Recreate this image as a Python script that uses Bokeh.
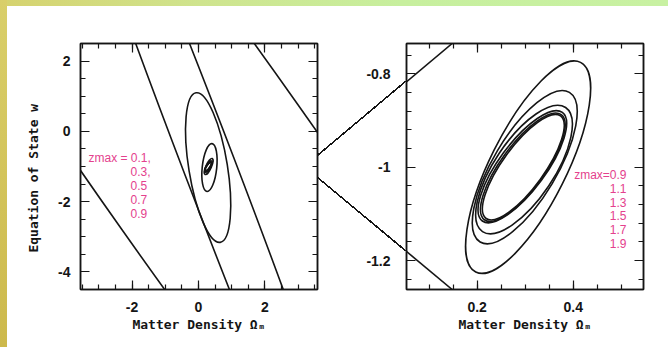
import numpy as np
from bokeh.plotting import figure
from bokeh.layouts import row
from bokeh.models import (Range1d, LinearAxis, SingleIntervalTicker,
                          CustomJSTickFormatter, Label, ColumnDataSource)
from bokeh.embed import file_html
from bokeh.resources import INLINE

# ---------------- data ----------------
zmax_left = [0.1, 0.3, 0.5, 0.7, 0.9]
cx_left = [0.33, 0.33, 0.29, 0.33, 0.306]
cy_left = [-1.0, -1.0, -1.03, -1.03, -1.0]
rx_left = [16.3, 5.9, 0.68, 0.23, 0.13]        # half extent in Omega_m
ry_left = [21.6, 14.5, 2.13, 0.68, 0.2275]     # half extent in w
rho_left = [-0.97, -0.99, -0.5, 0.3, 0.74]     # correlation

zmax_right = [0.9, 1.1, 1.3, 1.5, 1.7, 1.9]
cx_right = [0.306, 0.299, 0.2975, 0.294, 0.295, 0.296]
cy_right = [-1.0, -1.0, -1.005, -0.999, -1.0, -1.0]
rx_right = [0.13, 0.109, 0.1005, 0.092, 0.088, 0.085]
ry_right = [0.2275, 0.164, 0.1375, 0.120, 0.116, 0.113]
rho_right = [0.74, 0.72, 0.70, 0.77, 0.78, 0.79]

left_x = (-3.55, 3.58)
left_y = (-4.5, 2.5)
right_x = (0.053, 0.546)
right_y = (-1.262, -0.735)

# zoom connector: w on left panel edge -> Omega_m on right panel top/bottom edge
conn_w_left = [-0.72, -1.31]
conn_om_right = [0.148, 0.148]

# ---------------- layout geometry ----------------
FW, FH = 237, 246
BAND_L, BAND_T = 7, 6
L_MB_L, L_MB_R = 73, 45
R_MB_L, R_MB_R = 44, 25
MB_T, MB_B = 37, 58
LF_X0 = BAND_L + L_MB_L                    # left frame page x
SPLIT = BAND_L + L_MB_L + FW + L_MB_R      # page x of boundary between figures
RF_X0 = SPLIT + R_MB_L
F_Y0 = BAND_T + MB_T

INK = "#151515"
PINK = "#e4418d"


def kx(lim):
    return FW / (lim[1] - lim[0])


def ky(lim):
    return FH / (lim[1] - lim[0])


def ellipse_params(rx, ry, rho, xlim, ylim):
    """Turn (half extents, correlation) into bokeh ellipse width/height/angle."""
    W, H, A = [], [], []
    sxk, syk = kx(xlim), ky(ylim)
    for a, b, r in zip(rx, ry, rho):
        Sx, Sy = a * sxk, b * syk
        cov = np.array([[Sx * Sx, r * Sx * Sy], [r * Sx * Sy, Sy * Sy]])
        ev = np.linalg.eigvalsh(cov)
        lam1, lam2 = ev[1], max(ev[0], 1e-9)
        th = 0.5 * np.arctan2(2 * r * Sx * Sy, Sx * Sx - Sy * Sy)
        W.append(2 * np.sqrt(lam1) / sxk)
        H.append(2 * np.sqrt(lam2) / syk)
        A.append(th)
    return W, H, A


def make_fig(xlim, ylim, mbl, mbr, margin, xint, yint, xminor, yminor,
             ylabel=None, ystand=10):
    p = figure(frame_width=FW, frame_height=FH, x_range=Range1d(*xlim),
               y_range=Range1d(*ylim), toolbar_location=None,
               output_backend="svg", min_border_left=mbl, min_border_right=mbr,
               min_border_top=MB_T, min_border_bottom=MB_B,
               x_axis_location=None, y_axis_location=None)
    p.margin = margin
    p.grid.visible = False
    p.outline_line_color = INK
    p.outline_line_width = 1.5
    p.background_fill_color = "white"
    p.border_fill_color = None
    fmt = CustomJSTickFormatter(code="return String(Math.round(tick*10)/10)")
    blank = CustomJSTickFormatter(code="return ''")
    for place, is_x, f in (("below", True, fmt), ("above", True, blank),
                           ("left", False, fmt), ("right", False, blank)):
        ax = LinearAxis(ticker=SingleIntervalTicker(interval=xint if is_x else yint,
                                                    num_minor_ticks=xminor if is_x else yminor),
                        formatter=f)
        ax.major_tick_in = 9
        ax.major_tick_out = 0
        ax.minor_tick_in = 5
        ax.minor_tick_out = 0
        ax.major_tick_line_color = INK
        ax.minor_tick_line_color = INK
        ax.major_tick_line_width = 1.2
        ax.minor_tick_line_width = 1.2
        ax.axis_line_color = INK
        ax.axis_line_width = 1.5
        ax.major_label_text_font = "Liberation Sans"
        ax.major_label_text_font_style = "bold"
        ax.major_label_text_font_size = "14px"
        ax.major_label_text_color = INK
        ax.major_label_standoff = 12 if is_x else ystand
        ax.axis_label_text_font = "DejaVu Sans Mono"
        ax.axis_label_text_font_style = "bold"
        ax.axis_label_text_font_size = "13px"
        ax.axis_label_text_color = INK
        if place == "below":
            ax.axis_label = "Matter Density \u03a9\u2098"
            ax.axis_label_standoff = 2
        if place == "left" and ylabel:
            ax.axis_label = ylabel
            ax.axis_label_standoff = 14
        p.add_layout(ax, place)
    return p


# ---------------- left panel ----------------
p1 = make_fig(left_x, left_y, L_MB_L, L_MB_R, (BAND_T, 0, 0, BAND_L), 2, 2, 4, 4,
              ylabel="Equation of State w\u00a0\u00a0\u00a0", ystand=10)
w, h, a = ellipse_params(rx_left, ry_left, rho_left, left_x, left_y)
src1 = ColumnDataSource(dict(x=cx_left, y=cy_left, w=w, h=h, a=a))
p1.ellipse(x="x", y="y", width="w", height="h", angle="a", source=src1,
           fill_color=None, line_color=INK, line_width=1.6)
# the deeper surveys also appear, tiny, at the centre of the wide panel
w, h, a = ellipse_params(rx_right[1:], ry_right[1:], rho_right[1:], left_x, left_y)
src1b = ColumnDataSource(dict(x=cx_right[1:], y=cy_right[1:], w=w, h=h, a=a))
p1.ellipse(x="x", y="y", width="w", height="h", angle="a", source=src1b,
           fill_color=None, line_color=INK, line_width=1.4)


def lpx_to_x(px):
    return left_x[0] + (px - LF_X0) / kx(left_x)


def lpy_to_y(py):
    return left_y[1] - (py - F_Y0) / ky(left_y)


# legend text (left)
dyl = 13.9 / ky(left_y)
y0l = lpy_to_y(157)
for i, z in enumerate(zmax_left):
    if i == 0:
        txt = "zmax = %g," % z
    else:
        txt = "%g," % z if i == 1 else "%g" % z
    xx = lpx_to_x(88) if i == 0 else lpx_to_x(130)
    p1.add_layout(Label(x=xx, y=y0l - i * dyl, text=txt, text_align="left",
                        text_baseline="middle", text_font="Liberation Sans",
                        text_font_size="12px", text_color=PINK))

# ---------------- right panel ----------------
p2 = make_fig(right_x, right_y, R_MB_L, R_MB_R, (BAND_T, 0, 0, 0), 0.2, 0.2, 4, 5,
              ystand=16)
w, h, a = ellipse_params(rx_right, ry_right, rho_right, right_x, right_y)
src2 = ColumnDataSource(dict(x=cx_right, y=cy_right, w=w, h=h, a=a))
p2.ellipse(x="x", y="y", width="w", height="h", angle="a", source=src2,
           fill_color=None, line_color=INK, line_width=1.6)


def rpx_to_x(px):
    return right_x[0] + (px - RF_X0) / kx(right_x)


def rpy_to_y(py):
    return right_y[1] - (py - F_Y0) / ky(right_y)


dyr = 13.6 / ky(right_y)
x0r = rpx_to_x(626)
y0r = rpy_to_y(174.5)
for i, z in enumerate(zmax_right):
    txt = ("zmax=%g" % z) if i == 0 else ("%g" % z)
    p2.add_layout(Label(x=x0r, y=y0r - i * dyr, text=txt, text_align="right",
                        text_baseline="middle", text_font="Liberation Sans",
                        text_font_size="12px", text_color=PINK))

# ---------------- zoom connectors ----------------
css_lines = []
seg = dict(x0=[], y0=[], x1=[], y1=[])
for wl, om, yedge in zip(conn_w_left, conn_om_right, (right_y[1], right_y[0])):
    ax_ = LF_X0 + FW
    ay_ = F_Y0 + (left_y[1] - wl) * ky(left_y)
    bx_ = RF_X0 + (om - right_x[0]) * kx(right_x)
    by_ = F_Y0 + (right_y[1] - yedge) * ky(right_y)
    # part inside the right frame: a glyph (clipped by the frame)
    seg["x0"].append(rpx_to_x(ax_))
    seg["y0"].append(rpy_to_y(ay_))
    seg["x1"].append(om)
    seg["y1"].append(yedge)
    # part in the gap between the frames: css stroke behind transparent borders
    cy_ = ay_ + (RF_X0 - ax_) * (by_ - ay_) / (bx_ - ax_)
    left, top = ax_, min(ay_, cy_)
    wd, ht = RF_X0 - ax_, abs(cy_ - ay_)
    direction = "to bottom right" if cy_ < ay_ else "to top right"
    hw = 0.8
    css_lines.append(
        "linear-gradient(%s, transparent calc(50%% - %.1fpx), %s calc(50%% - %.1fpx), "
        "%s calc(50%% + %.1fpx), transparent calc(50%% + %.1fpx)) %.1fpx %.1fpx / %.1fpx %.1fpx no-repeat"
        % (direction, hw, INK, hw, INK, hw, hw, left, top, wd, ht))

p2.segment(x0="x0", y0="y0", x1="x1", y1="y1", source=ColumnDataSource(seg),
           line_color=INK, line_width=1.6)

bg = ", ".join(css_lines + [
    "linear-gradient(to bottom, #d9cf6a, #cdb94c) left top / %dpx 100%% no-repeat" % BAND_L,
    "linear-gradient(to right, #d6d26e, #cfe48e 30%%, #c7ef9e 60%%, #c8f1a2) left top / 100%% %dpx no-repeat" % BAND_T,
    "#ffffff"])
layout = row(p1, p2, styles={"background": bg})

open("out.html", "w").write(file_html(layout, INLINE))
